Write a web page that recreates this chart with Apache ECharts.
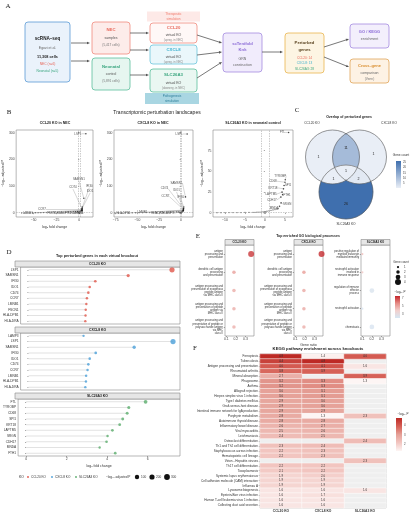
<!DOCTYPE html>
<html>
<head>
<meta charset="utf-8">
<script src="https://cdn.jsdelivr.net/npm/echarts@6/dist/echarts.min.js"></script>
<style>
html,body{margin:0;padding:0;background:#fff;}
#chart{width:413px;height:514px;}
</style>
</head>
<body>
<div id="chart"></div>
<script>
// ====================== DATA ======================
// Panel B – volcano plots (log2 fold change, -log10 adjusted P)
const volCCL20Genes = ['LSP1','SAMSN1','IFI30','IDO1','CD74','CCR7','LMNB1','FSCN1','HLA-DPB1','HLA-DRA'];
const volCCL20FC    = [7.2, 5.0, 3.35, 3.07, 3.0, 2.93, 2.9, 2.87, 2.86, 2.85];
const volCCL20P     = [296, 55, 22, 17, 16, 13, 11, 10, 9, 9];
const volCCL20BgFC  = [-63,-60,-57,-54,-51,-48,-45,-42,-39,-36,-33,-30,-27,-24,-21,-18,-15,-12,-9,-6,-4,-2,-1,-0.5,0,0.5,1,1.5,2,-3,-1.5,0.2];
const volCCL20BgP   = [0.2,0.3,0.5,0.6,0.8,1.0,1.1,1.3,1.5,1.7,1.9,2.1,2.3,2.6,2.9,3.2,3.5,3.9,4.3,4.8,5.2,5.6,4,2,1,3,6,8,4,2.5,1.2,0.4];

const volCXCL8Genes = ['LSP1','SAMSN1','IFI30','IDO1','CD74','CCR7','LMNB1','HLA-DPB1','HLA-DRA','LAMP3'];
const volCXCL8FC    = [7.25, 5.3, 3.37, 3.07, 3.0, 2.96, 2.89, 2.88, 2.85, 2.76];
const volCXCL8P     = [295, 60, 22, 17, 16, 13, 11, 10, 9, 8];
const volCXCL8BgFC  = [-76,-72,-68,-64,-60,-56,-52,-48,-44,-40,-36,-32,-28,-24,-20,-16,-12,-8,-5,-3,-2,-1,-0.5,0,0.5,1,1.5,2,-1.5,0.3];
const volCXCL8BgP   = [0.2,0.3,0.4,0.5,0.6,0.8,0.9,1.0,1.2,1.4,1.5,1.7,1.9,2.1,2.4,2.7,3.0,3.4,3.8,4.2,3,2,1,0.5,2.5,5,7,4,1.5,0.3];

const volSLCGenes = ['FTL','TYROBP','CD68','SPI1','KRT18','FTH1','LAPTM5','CDH17','SRGN','MNDA'];
const volSLCFC    = [5.9, 5.07, 4.99, 4.77, 4.62, 4.4, 4.26, 3.97, 4.02, 3.63];
const volSLCP     = [97, 40, 37, 33, 29, 22, 25, 19, 12, 8];
const volSLCBgFC  = [-12,-11,-10,-9,-8,-7,-6,-5,-4,-3,-2.5,-2,-1.5,-1,-0.5,0,0.5,1,1.5,2,2.5,3,3.3,-0.2,0.2];
const volSLCBgP   = [0.2,0.2,0.3,0.3,0.3,0.4,0.4,0.5,0.5,0.6,0.7,0.8,0.9,1.0,1.2,1.5,2,2.5,3,3.5,4,4.5,5,0.8,1];

// Panel C – Venn region counts
const vennLabels = ['CCL20 KO','CXCL8 KO','SLC26A3 KO'];
const vennOnlyCCL20 = 1, vennOnlyCXCL8 = 1, vennCCL20_CXCL8 = 11, vennAll = 1, vennCCL20_SLC = 1, vennCXCL8_SLC = 2, vennOnlySLC = 26;
const vennLegendTicks = [5,10,15,20,25];

// Panel D – lollipops
const lolCCL20Genes = ['LSP1','SAMSN1','IFI30','IDO1','CD74','CCR7','LMNB1','FSCN1','HLA-DPB1','HLA-DRA'];
const lolCCL20FC    = [7.2, 5.0, 3.35, 3.07, 3.0, 2.93, 2.9, 2.87, 2.86, 2.85];
const lolCCL20P     = [296, 55, 22, 17, 16, 13, 11, 10, 9, 9];
const lolCXCL8Genes = ['LAMP3','LSP1','SAMSN1','IFI30','IDO1','CD74','CCR7','LMNB1','HLA-DPB1','HLA-DRA'];
const lolCXCL8FC    = [2.76, 7.25, 5.3, 3.37, 3.07, 3.0, 2.96, 2.89, 2.88, 2.85];
const lolCXCL8P     = [8, 295, 60, 22, 17, 16, 13, 11, 10, 9];
const lolSLCGenes   = ['FTL','TYROBP','CD68','SPI1','KRT18','LAPTM5','SRGN','CDH17','MNDA','FTH1'];
const lolSLCFC      = [5.9, 5.07, 4.99, 4.77, 4.62, 4.26, 4.02, 3.97, 3.63, 4.4];
const lolSLCP       = [97, 40, 37, 33, 29, 25, 12, 19, 8, 22];
const lolXTicks     = [0, 2, 4, 6];
const lolSizeLegend = [100, 200, 300];

// Panel E – GO dot plots
const goTermsCCL20 = [
  'antigen\nprocessing and\npresentation',
  'dendritic cell antigen\nprocessing\nand presentation',
  'antigen processing and\npresentation of exogenous\npeptide antigen\nvia MHC class II',
  'antigen processing and\npresentation of peptide\nantigen via\nMHC class II',
  'antigen processing and\npresentation of peptide or\npolysaccharide antigen\nvia MHC\nclass II'
];
const goTermsCXCL8 = goTermsCCL20.slice();
const goTermsSLC = [
  'positive regulation of\nmyeloid leukocyte\nmediated immunity',
  'neutrophil activation\ninvolved in\nimmune response',
  'regulation of immune\neffector\nprocess',
  'neutrophil activation',
  'chemotaxis'
];
const goRatioCCL20 = [0.36, 0.18, 0.18, 0.18, 0.18];
const goCountCCL20 = [4, 2, 2, 2, 2];
const goLogPCCL20  = [7.2, 5.1, 4.8, 4.8, 4.7];
const goRatioCXCL8 = [0.375, 0.19, 0.19, 0.19, 0.19];
const goCountCXCL8 = [4, 2, 2, 2, 2];
const goLogPCXCL8  = [7.4, 5.2, 4.9, 4.9, 4.8];
const goRatioSLC   = [0.1, 0.1, 0.2, 0.1, 0.2];
const goCountSLC   = [1, 1, 3, 1, 3];
const goLogPSLC    = [4.3, 4.1, 2.3, 2.2, 2.2];
const goXTicks     = [0.1, 0.2, 0.3];
const goCountLegend = [1, 2, 3, 4];
const goPTicks = [7, 5, 3];

// Panel F – KEGG heatmap
const keggPathways = [
  'Ferroptosis','Tuberculosis','Antigen processing and presentation','Rheumatoid arthritis',
  'Mineral absorption','Phagosome','Asthma','Allograft rejection','Herpes simplex virus 1 infection',
  'Type I diabetes mellitus','Graft-versus-host disease','Intestinal immune network for IgA production',
  'Porphyrin metabolism','Autoimmune thyroid disease','Inflammatory bowel disease','Viral myocarditis',
  'Leishmaniasis','Osteoclast differentiation','Th1 and Th2 cell differentiation',
  'Staphylococcus aureus infection','Hematopoietic cell lineage','Virion - Hepatitis viruses',
  'Th17 cell differentiation','Toxoplasmosis','Systemic lupus erythematosus',
  'Cell adhesion molecule (CAM) interaction','Influenza A','Lysosome biogenesis',
  'Epstein-Barr virus infection','Human T-cell leukemia virus 1 infection','Collecting duct acid secretion'
];
const keggKOs = ['CCL20 KO','CXCL8 KO','SLC26A3 KO'];
const keggCCL20 = [4.8,4.4,4.0,3.8,2.7,3.2,3.2,3.0,3.0,2.9,2.9,2.9,2.8,2.8,2.6,2.5,2.4,null,2.3,2.2,2.2,null,2.2,2.1,1.9,1.9,1.9,1.6,1.6,1.6,1.6];
const keggCXCL8 = [1.4,4.8,4.1,3.9,null,3.3,3.3,3.1,3.1,3.0,3.0,2.9,1.3,2.8,2.7,2.6,2.5,null,2.4,2.3,2.3,null,2.2,2.2,2.0,1.9,1.9,1.6,1.7,1.6,1.6];
const keggSLC   = [4.0,null,1.6,null,3.9,1.3,null,null,null,null,null,null,2.3,null,null,null,null,2.4,null,null,null,2.3,null,null,null,null,null,1.6,null,null,null];
const keggPTicks = [4, 3, 2];

// ====================== STYLE / HELPERS ======================
const FF = '"Liberation Sans", "DejaVu Sans", Arial, sans-serif';
const SERIF = '"Liberation Serif", "DejaVu Serif", serif';
const RED = '#e0564a', BLUE = '#4a9fd8', GREEN = '#5aad6c';
const heatColors = ['#fdf5f4', '#f2c6c1', '#e5a097', '#d65f55', '#bd2a25'];
const goColors = ['#d5e7f4', '#f2d0cd', '#e58b85', '#c4262b'];
const vennLow = [233, 238, 246], vennHigh = [63, 111, 174];

function txt(x, y, s, size, color, o) {
  o = o || {};
  const al = o.align || 'center', va = o.va || 'middle';
  return {type:'text', x:x, y:y, rotation:o.rot||0, z:o.z||40, silent:true,
    style:{text:s, fill:color||'#333', font:(o.bold?'bold ':'') + size + 'px ' + (o.fam||FF),
      textAlign:al, textVerticalAlign:va, align:al, verticalAlign:va}};
}
function box(x, y, w, h, stroke, fill, r, lw) {
  return {type:'rect', z:20, silent:true, shape:{x:x, y:y, width:w, height:h, r:(r==null?3:r)},
    style:{fill:fill, stroke:stroke, lineWidth:(lw==null?0.8:lw)}};
}
function arrow(x1, y1, x2, y2, color) {
  color = color || '#555';
  const a = Math.atan2(y2 - y1, x2 - x1), L = 3, W = 1.3;
  const bx = x2 - L * Math.cos(a), by = y2 - L * Math.sin(a);
  return [
    {type:'line', z:20, silent:true, shape:{x1:x1, y1:y1, x2:bx, y2:by}, style:{stroke:color, lineWidth:0.8}},
    {type:'polygon', z:20, silent:true, shape:{points:[[x2, y2], [bx - W*Math.sin(a), by + W*Math.cos(a)], [bx + W*Math.sin(a), by - W*Math.cos(a)]]}, style:{fill:color}}
  ];
}
function vgrad(stops) {
  return {type:'linear', x:0, y:0, x2:0, y2:1, colorStops:stops.map((c, i) => ({offset: i / (stops.length - 1), color: c}))};
}
function lerpColor(a, b, t) {
  return 'rgb(' + a.map((v, i) => Math.round(v + (b[i] - v) * t)).join(',') + ')';
}

const G = [];   // graphic elements

// ---------------- Panel A – flowchart ----------------
G.push(txt(8, 6, 'A', 7, '#222', {fam: SERIF}));
G.push(box(25, 22, 45, 60, '#5b9bd5', '#eaf2fb'));
G.push(txt(47.5, 39, 'scRNA\u2013seq', 4.6, '#222', {bold:true}));
G.push(txt(47.5, 48, 'Egozi et al.', 3.5, '#666'));
G.push(txt(47.5, 56.5, '11,308 cells', 3.8, '#222', {bold:true}));
G.push(txt(47.5, 64.5, 'NEC (n=6)', 3.3, '#e8685b'));
G.push(txt(47.5, 71.5, 'Neonatal (n=5)', 3.3, '#3aa67f'));

G.push(box(92, 22, 38, 32, '#f08a7e', '#fdecea'));
G.push(txt(111, 30, 'NEC', 4.3, '#e8685b', {bold:true}));
G.push(txt(111, 38, 'samples', 3.5, '#555'));
G.push(txt(111, 45.5, '(5,417 cells)', 3.2, '#777'));
G.push(box(92, 58, 38, 32, '#5cbf9c', '#e6f6f0'));
G.push(txt(111, 66.5, 'Neonatal', 4.3, '#3aa67f', {bold:true}));
G.push(txt(111, 74, 'control', 3.5, '#555'));
G.push(txt(111, 81.5, '(5,891 cells)', 3.2, '#777'));

G.push(box(147, 11.5, 53, 10, 'none', '#fde9e7', 0, 0));
G.push(txt(173.5, 14.5, 'Therapeutic', 3.1, '#f07a6c'));
G.push(txt(173.5, 19.3, 'simulation', 3.1, '#f07a6c'));
G.push(box(150, 23, 47, 20, '#f08a7e', '#fff8f7'));
G.push(txt(173.5, 27.5, 'CCL20', 4.3, '#e8685b', {bold:true}));
G.push(txt(173.5, 35, 'virtual KO', 3.5, '#444'));
G.push(txt(173.5, 40, '(upreg. in NEC)', 2.8, '#888'));
G.push(box(150, 45, 47, 19, '#6cc5dc', '#eaf7fb'));
G.push(txt(173.5, 50, 'CXCL8', 4.3, '#3cb0cf', {bold:true}));
G.push(txt(173.5, 57.3, 'virtual KO', 3.5, '#444'));
G.push(txt(173.5, 62, '(upreg. in NEC)', 2.8, '#888'));
G.push(box(150, 69, 47, 23, '#5cbf9c', '#eaf7f2'));
G.push(txt(173.5, 75.3, 'SLC26A3', 4.3, '#3aa67f', {bold:true}));
G.push(txt(173.5, 83, 'virtual KO', 3.5, '#444'));
G.push(txt(173.5, 88.5, '(downreg. in NEC)', 2.8, '#888'));
G.push(box(145, 93, 54, 11, 'none', '#a9d6e2', 0, 0));
G.push(txt(172, 96.5, 'Pathogenesis', 3.1, '#2e7f9a'));
G.push(txt(172, 101, 'simulation', 3.1, '#2e7f9a'));

G.push(box(223, 33, 39, 39, '#a48be0', '#f1ecfc'));
G.push(txt(242.5, 44, 'scTenifold', 4.2, '#8a6ad6', {bold:true}));
G.push(txt(242.5, 50.3, 'Knk', 4.2, '#8a6ad6', {bold:true}));
G.push(txt(242.5, 58.8, 'GRN', 3.5, '#666'));
G.push(txt(242.5, 64.8, 'construction', 3.5, '#666'));

G.push(box(285, 33, 39, 40, '#eab54f', '#fdf5e3'));
G.push(txt(304.5, 43, 'Perturbed', 4.2, '#5a4320', {bold:true}));
G.push(txt(304.5, 50.3, 'genes', 4.2, '#5a4320', {bold:true}));
G.push(txt(304.5, 58, 'CCL20: 14', 3.2, '#e8685b'));
G.push(txt(304.5, 63.5, 'CXCL8: 13', 3.2, '#3cb0cf'));
G.push(txt(304.5, 69, 'SLC26A3: 28', 3.2, '#3aa67f'));

G.push(box(350, 24, 39, 24, '#a48be0', '#f3effc'));
G.push(txt(369.5, 31.5, 'GO / KEGG', 4, '#8a6ad6', {bold:true}));
G.push(txt(369.5, 39, 'enrichment', 3.5, '#666'));
G.push(box(350, 59, 39, 24, '#e0a458', '#fdf2e4'));
G.push(txt(369.5, 66, 'Cross\u2013gene', 4, '#d98c2b', {bold:true}));
G.push(txt(369.5, 73, 'comparison', 3.5, '#666'));
G.push(txt(369.5, 79, '(Venn)', 3.2, '#777'));

[[71,43,90,43],[71,61,90,61],[130,33,149,33],[130,50,149,50],[130,75,149,75],
 [197,35,222,43],[197,55,222,52],[197,78,222,62],[262,52,283,52],[324,47,349,39],[324,57,349,67]]
  .forEach(a => arrow(a[0], a[1], a[2], a[3]).forEach(e => G.push(e)));

// ---------------- Panel B titles ----------------
G.push(txt(9, 112, 'B', 7, '#222', {fam: SERIF}));
G.push(txt(157, 113, 'Transcriptomic perturbation landscapes', 5, '#222'));
G.push(txt(55, 123, 'CCL20 KO in NEC', 3.6, '#222', {bold:true}));
G.push(txt(153, 123, 'CXCL8 KO in NEC', 3.6, '#222', {bold:true}));
G.push(txt(253, 123, 'SLC26A3 KO in neonatal control', 3.6, '#222', {bold:true}));

// ---------------- Panel C – Venn (disjoint region polygons) ----------------
G.push(txt(297, 110, 'C', 7, '#222', {fam: SERIF}));
G.push(txt(349, 117, 'Overlap of perturbed genes', 3.5, '#222', {bold:true}));
(function () {
  const r = 27, cL = [332.5, 157], cR = [359.5, 157], cB = [346, 192];
  function vcol(n) { return lerpColor(vennLow, vennHigh, (n - 1) / 25); }
  function dist(p, c) { return Math.hypot(p[0]-c[0], p[1]-c[1]); }
  function inter(c1, c2) {
    const dx = c2[0]-c1[0], dy = c2[1]-c1[1], d = Math.hypot(dx, dy), a = d/2, h = Math.sqrt(r*r - a*a);
    const mx = c1[0] + dx/2, my = c1[1] + dy/2;
    return [[mx - h*dy/d, my + h*dx/d], [mx + h*dy/d, my - h*dx/d]];
  }
  function pick(pts, c, inside) { return (dist(pts[0], c) < r) === inside ? pts[0] : pts[1]; }
  function arc(c, p0, p1, dir) {
    const a0 = Math.atan2(p0[1]-c[1], p0[0]-c[0]);
    let a1 = Math.atan2(p1[1]-c[1], p1[0]-c[0]);
    if (dir > 0) { while (a1 < a0) a1 += 2*Math.PI; } else { while (a1 > a0) a1 -= 2*Math.PI; }
    const pts = [], n = 30;
    for (let i = 0; i <= n; i++) { const a = a0 + (a1-a0)*i/n; pts.push([c[0] + r*Math.cos(a), c[1] + r*Math.sin(a)]); }
    return pts;
  }
  const LR = inter(cL, cR), LB = inter(cL, cB), RB = inter(cR, cB);
  const T  = pick(LR, cB, false), P3 = pick(LR, cB, true);
  const P1 = pick(LB, cR, true),  QL = pick(LB, cR, false);
  const P2 = pick(RB, cL, true),  QR = pick(RB, cL, false);
  const regions = [
    [vennOnlyCCL20,   arc(cL, T, QL, -1).concat(arc(cB, QL, P2, 1), arc(cR, P2, T, 1))],
    [vennOnlyCXCL8,   arc(cR, T, QR, 1).concat(arc(cB, QR, P1, -1), arc(cL, P1, T, -1))],
    [vennCCL20_CXCL8, arc(cL, T, P1, 1).concat(arc(cB, P1, P2, -1), arc(cR, P2, T, 1))],
    [vennAll,         arc(cB, P2, P1, 1).concat(arc(cL, P1, P3, 1), arc(cR, P3, P2, 1))],
    [vennCCL20_SLC,   arc(cL, QL, P3, -1).concat(arc(cR, P3, P2, 1), arc(cB, P2, QL, -1))],
    [vennCXCL8_SLC,   arc(cL, P3, P1, -1).concat(arc(cB, P1, QR, 1), arc(cR, QR, P3, 1))],
    [vennOnlySLC,     arc(cL, QL, P3, -1).concat(arc(cR, P3, QR, -1), arc(cB, QR, QL, 1))]
  ];
  regions.forEach(rg => G.push({type:'polygon', z:21, silent:true, shape:{points:rg[1]},
    style:{fill:vcol(rg[0]), stroke:vcol(rg[0]), lineWidth:0.3}}));
  [cL, cR, cB].forEach(c => G.push({type:'circle', z:25, silent:true, shape:{cx:c[0], cy:c[1], r:r}, style:{fill:'none', stroke:'#555', lineWidth:0.6}}));
  const fs = 3.6;
  G.push(txt(cL[0]-14, cL[1], String(vennOnlyCCL20), fs, '#222'));
  G.push(txt(cR[0]+14, cR[1]-3, String(vennOnlyCXCL8), fs, '#222'));
  G.push(txt((cL[0]+cR[0])/2, cL[1]-9, String(vennCCL20_CXCL8), fs, '#222'));
  G.push(txt((cL[0]+cR[0])/2, 171, String(vennAll), fs, '#222'));
  G.push(txt(cL[0]+1, 179, String(vennCCL20_SLC), fs, '#222'));
  G.push(txt(cR[0]-1, 179, String(vennCXCL8_SLC), fs, '#222'));
  G.push(txt(cB[0], cB[1]+12, String(vennOnlySLC), fs, '#222'));
  G.push(txt(312, 123.5, vennLabels[0], 3.2, '#333'));
  G.push(txt(389, 123.5, vennLabels[1], 3.2, '#333'));
  G.push(txt(cB[0], 224.5, vennLabels[2], 3.2, '#333'));
  const by0 = 161, by1 = 188;
  G.push(txt(401, 155, 'Gene count', 3.2, '#333'));
  G.push({type:'rect', z:20, silent:true, shape:{x:396, y:by0, width:5, height:by1-by0}, style:{fill:vgrad([vcol(26), vcol(1)])}});
  vennLegendTicks.forEach(v => {
    const y = by1 - (v - 1) / 25 * (by1 - by0);
    G.push(txt(403, y, String(v), 2.8, '#444', {align:'left'}));
  });
})();

// ---------------- Panel D titles / strips / legend ----------------
G.push(txt(9, 252, 'D', 7, '#222', {fam: SERIF}));
G.push(txt(97, 256, 'Top perturbed genes in each virtual knockout', 3.8, '#222', {bold:true}));
[[261, 'CCL20 KO'], [327, 'CXCL8 KO'], [393, 'SLC26A3 KO']].forEach(s => {
  G.push(box(15, s[0], 165, 6, '#888', '#e6e6e6', 0, 0.6));
  G.push(txt(97.5, s[0] + 3, s[1], 3.4, '#222', {bold:true}));
});
(function () {
  const y = 477;
  G.push(txt(19, y, 'KO', 3.3, '#222', {align:'left'}));
  [[28, RED, 'CCL20 KO'], [52, BLUE, 'CXCL8 KO'], [76, GREEN, 'SLC26A3 KO']].forEach(l => {
    G.push({type:'circle', z:30, silent:true, shape:{cx:l[0], cy:y, r:0.9}, style:{fill:l[1]}});
    G.push(txt(l[0] + 3, y, l[2], 3.1, '#333', {align:'left'}));
  });
  G.push(txt(106, y, '\u2212log\u2081\u2080 adjusted P', 3.2, '#333', {align:'left'}));
  [[137, 100], [152, 200], [167, 300]].forEach(l => {
    const s = 1.8 + 3.4 * Math.sqrt(l[1] / 300);
    G.push({type:'circle', z:30, silent:true, shape:{cx:l[0], cy:y, r:s/2 + 0.3}, style:{fill:'#111'}});
    G.push(txt(l[0] + 4, y, String(l[1]), 3.1, '#333', {align:'left'}));
  });
})();

// ---------------- Panel E titles / strips / legend ----------------
G.push(txt(198, 236, 'E', 7, '#222', {fam: SERIF}));
G.push(txt(308, 236, 'Top enriched GO biological processes', 3.5, '#222', {bold:true}));
[[225, 'CCL20 KO'], [294, 'CXCL8 KO'], [361, 'SLC26A3 KO']].forEach(s => {
  G.push(box(s[0], 239.5, 29, 5.5, '#888', '#e6e6e6', 0, 0.6));
  G.push(txt(s[0] + 14.5, 242.3, s[1], 2.8, '#222', {bold:true}));
});
(function () {
  G.push(txt(401, 262, 'Gene count', 3, '#333'));
  goCountLegend.forEach((c, i) => {
    const y = 267 + i * 5;
    G.push({type:'circle', z:30, silent:true, shape:{cx:398, cy:y, r:(1 + 1.25 * c) / 2}, style:{fill:'#111'}});
    G.push(txt(404, y, String(c), 2.8, '#333', {align:'left'}));
  });
  G.push(txt(400, 292, '\u2212log\u2081\u2080 P', 3, '#333'));
  const y0 = 296, y1 = 318, mn = 2, mx = 7.5;
  G.push({type:'rect', z:20, silent:true, shape:{x:395, y:y0, width:5, height:y1 - y0}, style:{fill:vgrad(goColors.slice().reverse())}});
  goPTicks.forEach(v => G.push(txt(402, y1 - (v - mn) / (mx - mn) * (y1 - y0), String(v), 2.8, '#444', {align:'left'})));
})();

// ---------------- Panel F titles / legend ----------------
G.push(txt(195, 348, 'F', 7, '#222', {fam: SERIF}));
G.push(txt(318, 349, 'KEGG pathway enrichment across knockouts', 4.2, '#222', {bold:true}));
(function () {
  G.push(txt(403, 414, '\u2212log\u2081\u2080 P', 3, '#333'));
  const y0 = 418, y1 = 451, mn = 1.3, mx = 4.8;
  G.push({type:'rect', z:20, silent:true, shape:{x:396, y:y0, width:6, height:y1 - y0}, style:{fill:vgrad(heatColors.slice().reverse())}});
  keggPTicks.forEach(v => G.push(txt(404, y1 - (v - mn) / (mx - mn) * (y1 - y0), String(v), 2.8, '#444', {align:'left'})));
})();

// ====================== GRIDS & AXES ======================
const grids = [
  {left:16,  top:130, width:77,  height:87},
  {left:114, top:130, width:79,  height:87},
  {left:213, top:130, width:80,  height:87},
  {left:15,  top:267, width:165, height:57},
  {left:15,  top:333, width:165, height:57},
  {left:15,  top:399, width:165, height:57},
  {left:225, top:245, width:29,  height:91},
  {left:294, top:245, width:29,  height:91},
  {left:361, top:245, width:29,  height:91},
  {left:260, top:354, width:126, height:154}
].map(g => Object.assign({show:true, borderColor:'#888', borderWidth:0.6, backgroundColor:'#fff', containLabel:false}, g));

function vAxis(gi, min, max, ticks, o) {
  o = o || {};
  const ax = {
    type:'value', gridIndex:gi, min:min, max:max,
    axisLine:{show:false}, splitLine:{show:false},
    axisTick:{show:o.noLabel ? false : true, length:1.2, lineStyle:{color:'#555', width:0.5}, customValues:ticks},
    axisLabel:{show:!o.noLabel, fontSize:3.4, color:'#444', margin:1.6, fontFamily:FF, customValues:ticks,
      formatter:o.fmt || (v => String(v).replace('-', '\u2212'))}
  };
  if (o.name) {
    ax.name = o.name; ax.nameLocation = 'middle'; ax.nameGap = o.nameGap || 8;
    ax.nameTextStyle = {fontSize:3.5, color:'#333', fontFamily:FF};
    if (o.rot) ax.nameRotate = 90;
  }
  return ax;
}
function cAxis(gi, data, o) {
  o = o || {};
  return {
    type:'category', gridIndex:gi, data:data, inverse:!!o.inverse,
    axisLine:{show:false}, splitLine:{show:false},
    axisTick:{show:!o.noTick, length:1.2, alignWithLabel:true, lineStyle:{color:'#555', width:0.5}},
    axisLabel:{show:true, interval:0, fontSize:o.fs || 3.4, lineHeight:o.lh || undefined, color:'#333', margin:o.margin || 2,
      fontFamily:FF, fontWeight:o.bold ? 'bold' : 'normal'}
  };
}

const xAxes = [
  vAxis(0, -69, 15, [-50, -25, 0], {name:'log\u2082 fold change', nameGap:8}),
  vAxis(1, -77, 14, [-75, -50, -25, 0], {name:'log\u2082 fold change', nameGap:8}),
  vAxis(2, -13, 7, [-10, -5, 0, 5], {name:'log\u2082 fold change', nameGap:8}),
  vAxis(3, -0.4, 7.6, lolXTicks, {noLabel:true}),
  vAxis(4, -0.4, 7.6, lolXTicks, {noLabel:true}),
  vAxis(5, -0.4, 7.6, lolXTicks, {name:'log\u2082 fold change', nameGap:8}),
  vAxis(6, 0.086, 0.39, goXTicks, {fmt:v => v.toFixed(1)}),
  vAxis(7, 0.086, 0.39, goXTicks, {fmt:v => v.toFixed(1), name:'Gene ratio', nameGap:7}),
  vAxis(8, 0.086, 0.39, goXTicks, {fmt:v => v.toFixed(1)}),
  cAxis(9, keggKOs, {bold:true, fs:3.3, noTick:true, margin:2})
];
const yAxes = [
  vAxis(0, -15, 310, [0, 100, 200, 300], {name:'\u2212log\u2081\u2080 adjusted P', nameGap:9, rot:true}),
  vAxis(1, -15, 310, [0, 100, 200, 300], {name:'\u2212log\u2081\u2080 adjusted P', nameGap:9, rot:true}),
  vAxis(2, -5, 100, [0, 25, 50, 75], {name:'\u2212log\u2081\u2080 adjusted P', nameGap:8, rot:true}),
  cAxis(3, lolCCL20Genes, {inverse:true, fs:3.2}),
  cAxis(4, lolCXCL8Genes, {inverse:true, fs:3.2}),
  cAxis(5, lolSLCGenes, {inverse:true, fs:3.2}),
  cAxis(6, goTermsCCL20, {inverse:true, fs:2.7, lh:3.1}),
  cAxis(7, goTermsCXCL8, {inverse:true, fs:2.7, lh:3.1}),
  cAxis(8, goTermsSLC, {inverse:true, fs:2.7, lh:3.1}),
  cAxis(9, keggPathways, {inverse:true, fs:3.1, noTick:false})
];

// ====================== SERIES ======================
const series = [];
const volOffsets = [
  {LSP1:[-8,0], SAMSN1:[-5,-19], IFI30:[7,-21], IDO1:[8,-17], CD74:[-9,-21], CCR7:[-40,0], LMNB1:[-54,3], FSCN1:[-30,3], 'HLA-DPB1':[-18,3], 'HLA-DRA':[-5,3]},
  {LSP1:[-8,0], SAMSN1:[-9,-14], IFI30:[-3,-10], IDO1:[-7,-18], CD74:[-19,-20], CCR7:[-18,-13], LMNB1:[-41,2.5], 'HLA-DPB1':[-60,2.5], 'HLA-DRA':[-26,2.5], LAMP3:[-14,2.5]},
  {FTL:[-6,0], TYROBP:[-5,-4], CD68:[-12,-1], SPI1:[4,-0.5], KRT18:[-10.5,-1], FTH1:[4.5,0.5], LAPTM5:[-11,2], CDH17:[-9,3], SRGN:[6,1], MNDA:[-5.5,2]}
];
[[volCCL20BgFC, volCCL20BgP, volCCL20Genes, volCCL20FC, volCCL20P],
 [volCXCL8BgFC, volCXCL8BgP, volCXCL8Genes, volCXCL8FC, volCXCL8P],
 [volSLCBgFC, volSLCBgP, volSLCGenes, volSLCFC, volSLCP]].forEach((v, k) => {
  series.push({
    type:'scatter', xAxisIndex:k, yAxisIndex:k, symbolSize:1.3, silent:true,
    itemStyle:{color:'#3a3a3a'}, data:v[0].map((x, i) => [x, v[1][i]]),
    markLine:{silent:true, symbol:'none', label:{show:false}, animation:false,
      lineStyle:{type:[1.5, 1], color:'#999', width:0.5}, data:[{xAxis:-1}, {xAxis:1}, {yAxis:1.3}]}
  });
  const offs = volOffsets[k];
  series.push({
    type:'scatter', xAxisIndex:k, yAxisIndex:k, symbolSize:1.6, silent:true,
    itemStyle:{color:'#1a1a1a'},
    data:v[2].map((g, i) => ({name:g, value:[v[3][i], v[4][i]]})),
    label:{show:true, position:'inside', formatter:'{b}', fontSize:2.9, color:'#222', fontFamily:FF},
    labelLine:{show:true, length2:0, lineStyle:{width:0.3, color:'#777'}},
    labelLayout: p => { const o = offs[v[2][p.dataIndex]] || [0, 0]; return {dx:o[0], dy:o[1]}; }
  });
});

function sizeP(p) { return 1.8 + 3.4 * Math.sqrt(p / 300); }
[[lolCCL20FC, lolCCL20P, RED], [lolCXCL8FC, lolCXCL8P, BLUE], [lolSLCFC, lolSLCP, GREEN]].forEach((v, k) => {
  const gi = 3 + k;
  series.push({type:'bar', xAxisIndex:gi, yAxisIndex:gi, barWidth:0.7, silent:true,
    itemStyle:{color:'#e2e2e2'}, data:v[0]});
  series.push({type:'scatter', xAxisIndex:gi, yAxisIndex:gi, silent:true,
    itemStyle:{color:v[2]}, data:v[0].map((x, i) => [x, i, v[1][i]]),
    symbolSize:d => sizeP(d[2])});
});

const goIdx = [];
[[goRatioCCL20, goCountCCL20, goLogPCCL20], [goRatioCXCL8, goCountCXCL8, goLogPCXCL8], [goRatioSLC, goCountSLC, goLogPSLC]].forEach((v, k) => {
  const gi = 6 + k;
  goIdx.push(series.length);
  series.push({type:'scatter', xAxisIndex:gi, yAxisIndex:gi, silent:true,
    data:v[0].map((x, i) => [x, i, v[2][i], v[1][i]]),
    symbolSize:d => 1 + 1.25 * d[3]});
});

const naCells = [], valCells = [];
[keggCCL20, keggCXCL8, keggSLC].forEach((col, j) => col.forEach((val, i) => {
  if (val == null) naCells.push([j, i, 0]); else valCells.push([j, i, val]);
}));
series.push({type:'heatmap', xAxisIndex:9, yAxisIndex:9, silent:true, data:naCells,
  itemStyle:{color:'#efefef', borderColor:'#fff', borderWidth:0.5}, label:{show:false}});
const heatIdx = series.length;
series.push({type:'heatmap', xAxisIndex:9, yAxisIndex:9, silent:true, data:valCells,
  itemStyle:{borderColor:'#fff', borderWidth:0.5},
  label:{show:true, fontSize:2.9, color:'#333', fontFamily:FF, formatter:p => p.value[2].toFixed(1)}});

// ====================== CHART ======================
const chart = echarts.init(document.getElementById('chart'), null, {renderer:'canvas', width:413, height:514});
chart.setOption({
  backgroundColor:'#fff',
  animation:false,
  textStyle:{fontFamily:FF},
  grid:grids, xAxis:xAxes, yAxis:yAxes,
  visualMap:[
    {type:'continuous', show:false, seriesIndex:heatIdx, dimension:2, min:1.3, max:4.8, inRange:{color:heatColors}},
    {type:'continuous', show:false, seriesIndex:goIdx, dimension:2, min:2, max:7.5, inRange:{color:goColors}}
  ],
  series:series,
  graphic:{elements:G}
});
</script>
</body>
</html>
